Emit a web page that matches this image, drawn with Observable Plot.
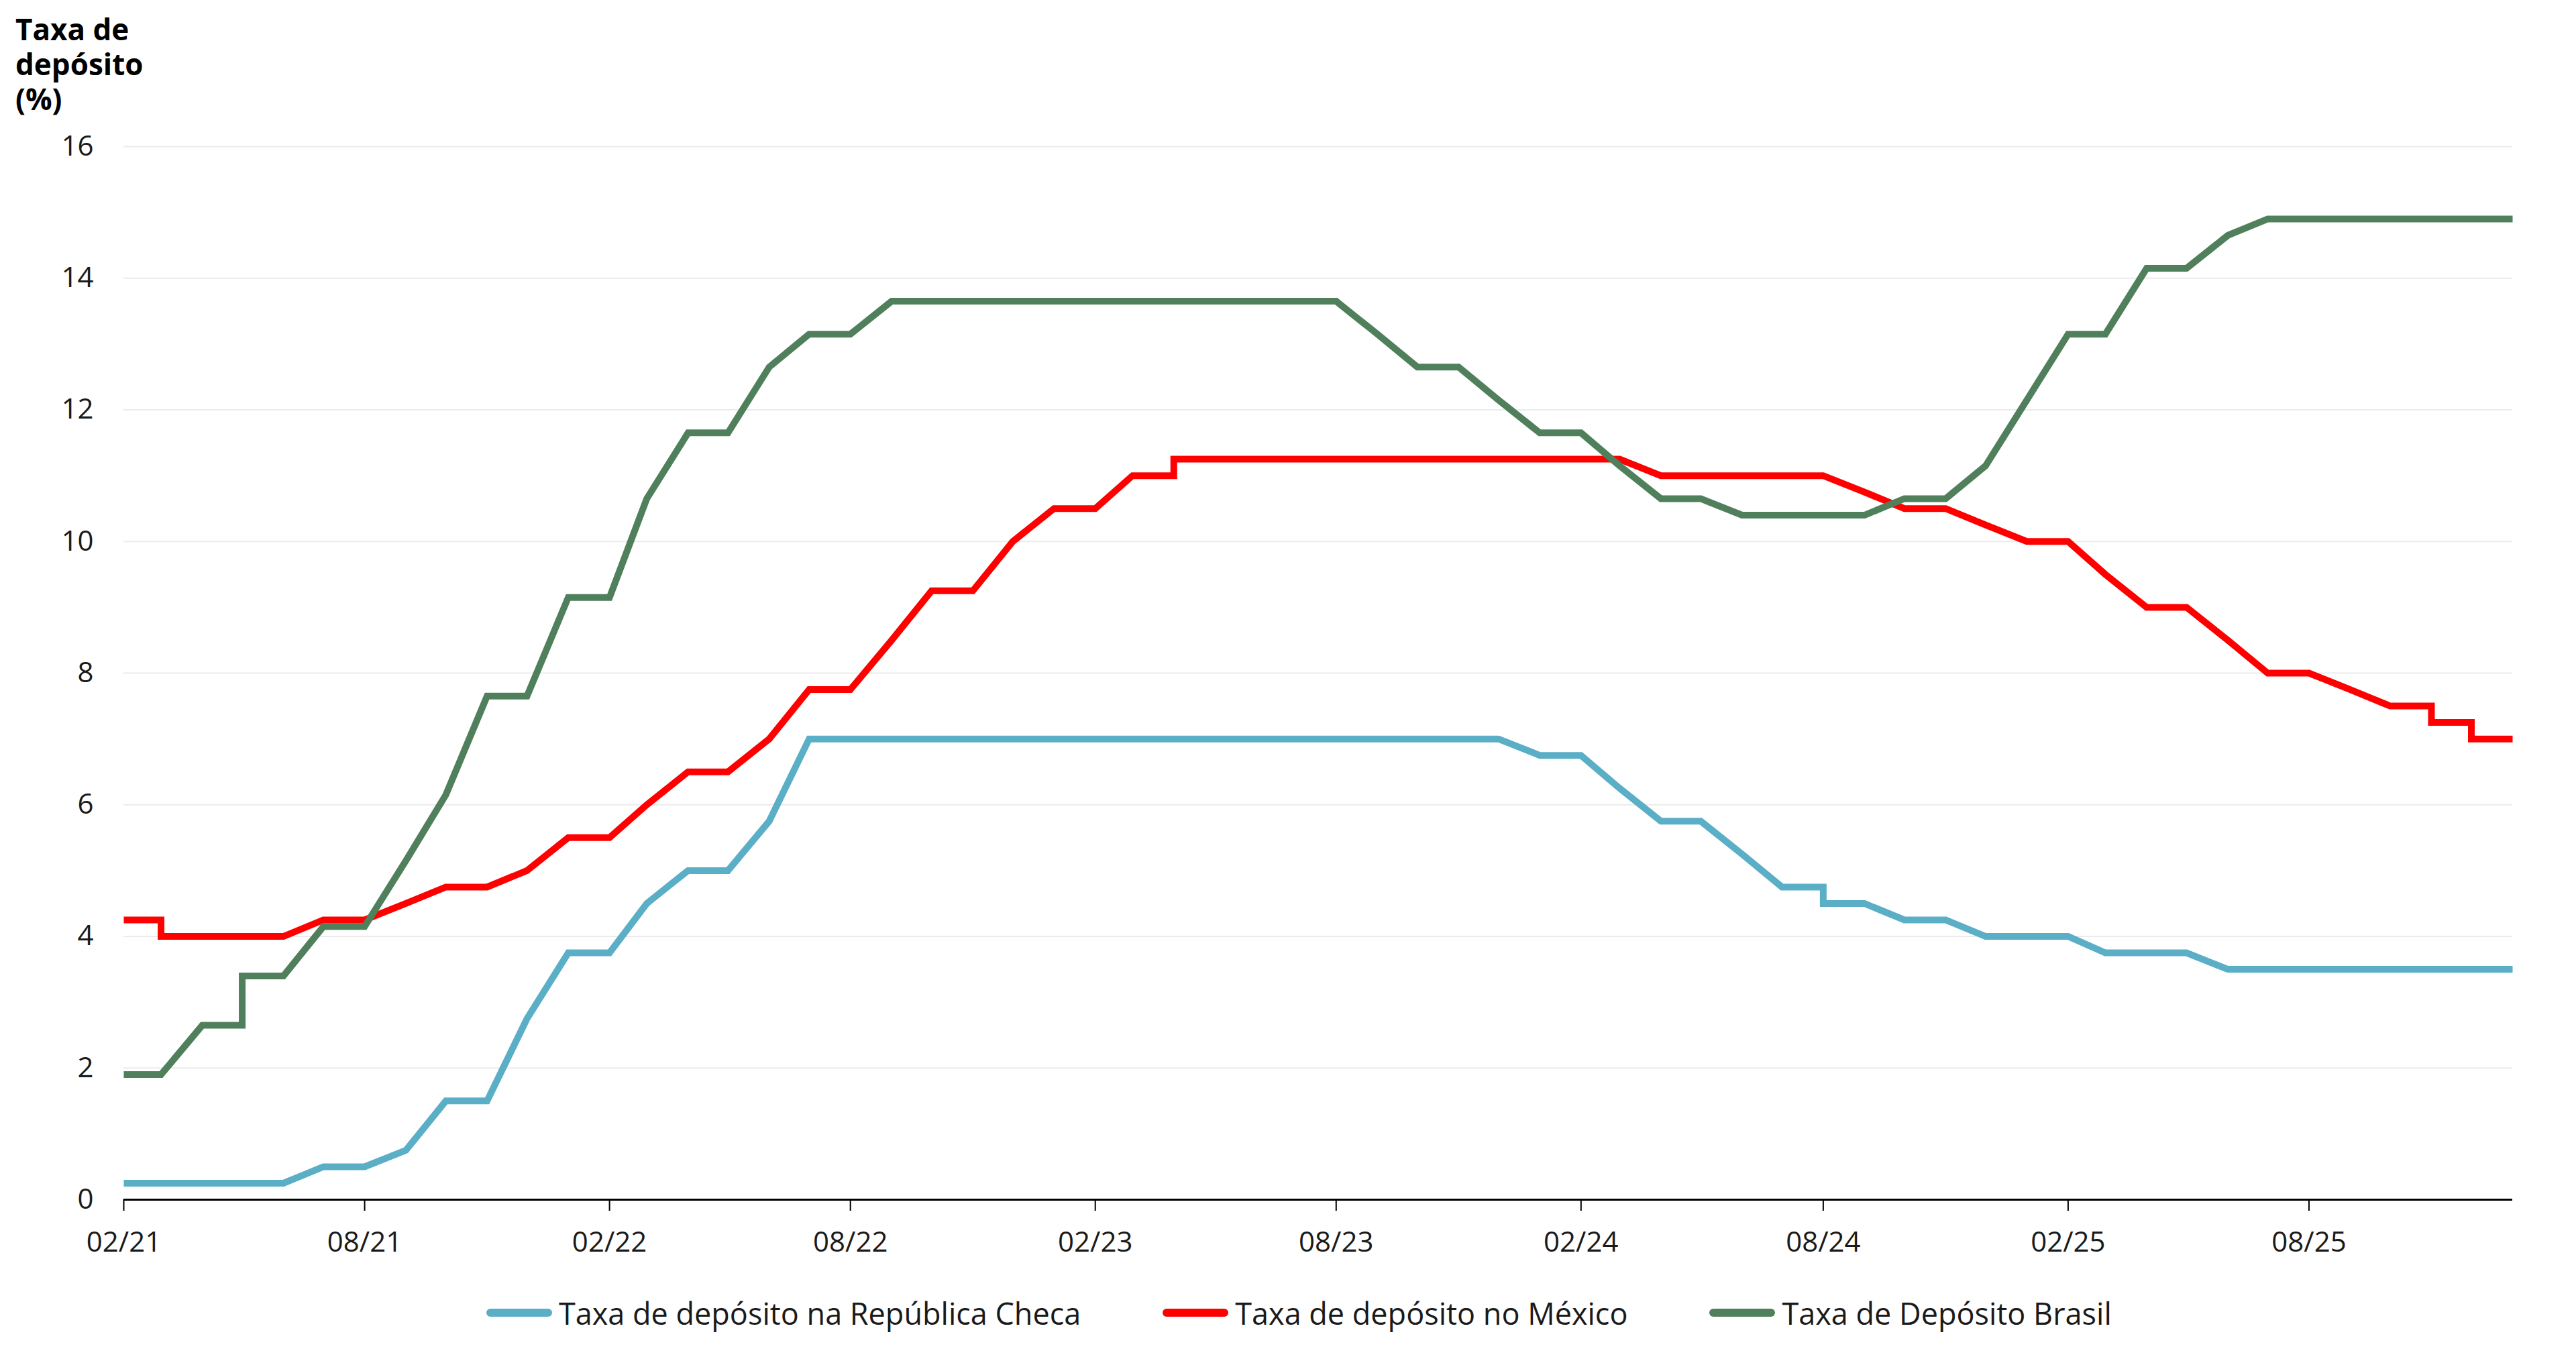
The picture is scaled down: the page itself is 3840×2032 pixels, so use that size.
<!DOCTYPE html>
<html>
<head>
<meta charset="utf-8">
<script src="https://cdn.jsdelivr.net/npm/d3@7"></script>
<script src="https://cdn.jsdelivr.net/npm/@observablehq/plot@0.6"></script>
<style>
  html, body { margin: 0; padding: 0; background: #fff; }
  body { width: 3840px; height: 2032px; overflow: hidden; font-family: "Open Sans", sans-serif; color: #1a1a1a; }
  #title { box-sizing: border-box; height: 180px; padding: 17px 0 0 23px; font-size: 44px; font-weight: 700; color: #000; }
  #title div { height: 52px; line-height: 52px; white-space: nowrap; }
  #chart svg { display: block; }
  #legend { box-sizing: border-box; height: 114px; display: flex; align-items: center; padding-left: 725px; font-size: 45px; color: #1a1a1a; }
  .item { display: flex; align-items: center; margin-right: 122px; }
  .sw { width: 98px; height: 12px; border-radius: 6px; margin-right: 10px; }
</style>
</head>
<body>
<div id="title"><div>Taxa de</div><div>depósito</div><div>(%)</div></div>
<div id="chart"></div>
<div id="legend"></div>
<script>
const months = [
  "2021-02","2021-03","2021-04","2021-05","2021-06","2021-07","2021-08","2021-09","2021-10","2021-11","2021-12",
  "2022-01","2022-02","2022-03","2022-04","2022-05","2022-06","2022-07","2022-08","2022-09","2022-10","2022-11","2022-12",
  "2023-01","2023-02","2023-03","2023-04","2023-05","2023-06","2023-07","2023-08","2023-09","2023-10","2023-11","2023-12",
  "2024-01","2024-02","2024-03","2024-04","2024-05","2024-06","2024-07","2024-08","2024-09","2024-10","2024-11","2024-12",
  "2025-01","2025-02","2025-03","2025-04","2025-05","2025-06","2025-07","2025-08","2025-09","2025-10","2025-11","2025-12",
  "2026-01"
];

const seriesNames = [
  "Taxa de depósito na República Checa",
  "Taxa de depósito no México",
  "Taxa de Depósito Brasil"
];
const seriesColors = ["#5aaec6", "#ff0000", "#4f7f5b"];

// values on the first day of each month
const czech = [
  0.25, 0.25, 0.25, 0.25, 0.25, 0.5, 0.5, 0.75, 1.5, 1.5, 2.75,
  3.75, 3.75, 4.5, 5.0, 5.0, 5.75, 7.0, 7.0, 7.0, 7.0, 7.0, 7.0,
  7.0, 7.0, 7.0, 7.0, 7.0, 7.0, 7.0, 7.0, 7.0, 7.0, 7.0, 7.0,
  6.75, 6.75, 6.25, 5.75, 5.75, 5.25, 4.75, 4.75, 4.5, 4.25, 4.25, 4.0,
  4.0, 4.0, 3.75, 3.75, 3.75, 3.5, 3.5, 3.5, 3.5, 3.5, 3.5, 3.5,
  3.5
];
const mexico = [
  4.25, 4.25, 4.0, 4.0, 4.0, 4.25, 4.25, 4.5, 4.75, 4.75, 5.0,
  5.5, 5.5, 6.0, 6.5, 6.5, 7.0, 7.75, 7.75, 8.5, 9.25, 9.25, 10.0,
  10.5, 10.5, 11.0, 11.0, 11.25, 11.25, 11.25, 11.25, 11.25, 11.25, 11.25, 11.25,
  11.25, 11.25, 11.25, 11.0, 11.0, 11.0, 11.0, 11.0, 10.75, 10.5, 10.5, 10.25,
  10.0, 10.0, 9.5, 9.0, 9.0, 8.5, 8.0, 8.0, 7.75, 7.5, 7.5, 7.25,
  7.0
];
const brazil = [
  1.9, 1.9, 2.65, 2.65, 3.4, 4.15, 4.15, 5.15, 6.15, 7.65, 7.65,
  9.15, 9.15, 10.65, 11.65, 11.65, 12.65, 13.15, 13.15, 13.65, 13.65, 13.65, 13.65,
  13.65, 13.65, 13.65, 13.65, 13.65, 13.65, 13.65, 13.65, 13.15, 12.65, 12.65, 12.15,
  11.65, 11.65, 11.15, 10.65, 10.65, 10.4, 10.4, 10.4, 10.4, 10.65, 10.65, 11.15,
  12.15, 13.15, 13.15, 14.15, 14.15, 14.65, 14.9, 14.9, 14.9, 14.9, 14.9, 14.9,
  14.9
];
// second value recorded on the same day (vertical steps)
const czechJumps = [["2024-08", 4.5]];
const mexicoJumps = [["2021-03", 4.0], ["2023-04", 11.25], ["2025-11", 7.25], ["2025-12", 7.0]];
const brazilJumps = [["2021-05", 3.4]];

const xTicks = ["2021-02","2021-08","2022-02","2022-08","2023-02","2023-08","2024-02","2024-08","2025-02","2025-08"];
const yTicks = [0, 2, 4, 6, 8, 10, 12, 14, 16];

const toDate = m => new Date(m + "-01T00:00:00Z");

function build(values, jumps) {
  const out = [];
  months.forEach((m, i) => {
    const d = toDate(m);
    out.push({date: d, value: values[i]});
    const j = jumps.find(k => k[0] === m);
    if (j) out.push({date: d, value: j[1]});
  });
  return out;
}

const dataCz = build(czech, czechJumps);
const dataMx = build(mexico, mexicoJumps);
const dataBr = build(brazil, brazilJumps);

const lineOpts = (color) => ({
  x: "date", y: "value", stroke: color, strokeWidth: 10,
  strokeLinejoin: "miter", strokeMiterlimit: 2, strokeLinecap: "butt"
});

const chart = Plot.plot({
  width: 3840,
  height: 1720,
  marginTop: 38,
  marginBottom: 112,
  marginLeft: 184,
  marginRight: 95,
  style: {fontFamily: "Open Sans, sans-serif", fontSize: "42px", color: "#1a1a1a", background: "#fff"},
  x: {type: "utc", domain: [toDate("2021-02"), toDate("2026-01")]},
  y: {domain: [0, 16]},
  marks: [
    Plot.gridY(yTicks.filter(v => v > 0), {stroke: "#ebebeb", strokeOpacity: 1, strokeWidth: 2}),
    Plot.axisY(yTicks, {tickSize: 0, tickPadding: 45, label: null, fontSize: 42, tickFormat: d => String(d)}),
    Plot.axisX(xTicks.map(toDate), {tickSize: 17, tickPadding: 31, label: null, fontSize: 42,
      tickFormat: d3.utcFormat("%m/%y"), stroke: "#000", strokeWidth: 2}),
    Plot.ruleY([0], {stroke: "#000", strokeWidth: 3}),
    Plot.line(dataCz, lineOpts(seriesColors[0])),
    Plot.line(dataMx, lineOpts(seriesColors[1])),
    Plot.line(dataBr, lineOpts(seriesColors[2]))
  ]
});
document.getElementById("chart").appendChild(chart);

const legend = document.getElementById("legend");
seriesNames.forEach((name, i) => {
  const item = document.createElement("div");
  item.className = "item";
  const sw = document.createElement("div");
  sw.className = "sw";
  sw.style.background = seriesColors[i];
  const label = document.createElement("span");
  label.textContent = name;
  item.appendChild(sw);
  item.appendChild(label);
  legend.appendChild(item);
});
</script>
</body>
</html>
